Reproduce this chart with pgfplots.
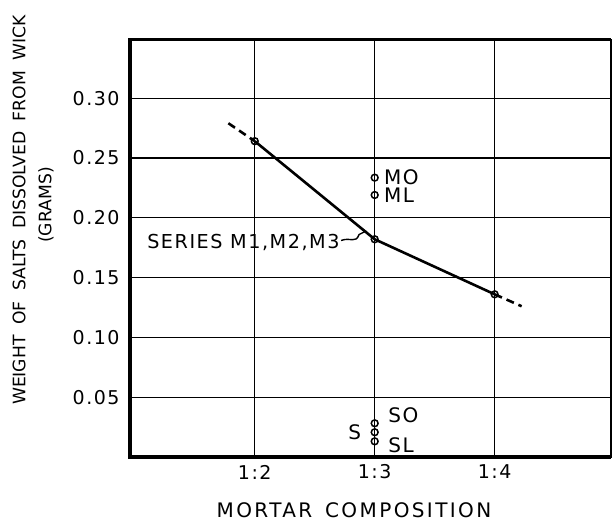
\documentclass[border=0pt]{standalone}
\usepackage{fontspec}
\setmainfont{DejaVu Sans}
\newfontfamily\lbl[LetterSpace=8]{DejaVu Sans}
\newfontfamily\lblw[LetterSpace=12]{DejaVu Sans}
\newfontfamily\lbln{DejaVu Sans}
\usepackage{pgfplots}
\pgfplotsset{compat=1.18}
\begin{document}
\begin{tikzpicture}
\begin{axis}[
  scale only axis,
  width=240.5pt, height=208.75pt,
  xmin=0.96, xmax=4.97,
  ymin=0, ymax=0.349,
  xtick={2,3,4},
  xticklabels={1:2,1:3,1:4},
  ytick={0.05,0.10,0.15,0.20,0.25,0.30},
  /pgf/number format/fixed,
  /pgf/number format/fixed zerofill,
  /pgf/number format/precision=2,
  /pgf/number format/assume math mode=true,
  yticklabel style={anchor=east, inner sep=0pt, xshift=-5pt, font=\lbl\fontsize{9.5}{10}\selectfont},
  xticklabel style={anchor=center, inner sep=0pt, yshift=-7.5pt, font=\lbl\fontsize{9.5}{10}\selectfont},
  major tick length=0pt,
  grid=major,
  major grid style={black, line width=0.6pt},
  axis line style={black, line width=0.6pt},
  clip=false,
]
\draw[line width=1.6pt] (rel axis cs:1,1) -- (rel axis cs:0,1) -- (rel axis cs:0,0) -- (rel axis cs:1,0);
% dashed extensions
\addplot[black, line width=1.3pt, dash pattern=on 4pt off 2.5pt] coordinates {(1.78,0.279) (2,0.264)};
\addplot[black, line width=1.3pt, dash pattern=on 4pt off 2.5pt] coordinates {(4,0.136) (4.225,0.126)};
% main curve
\addplot[black, line width=1.3pt] coordinates {(2,0.264) (3,0.182) (4,0.136)};
% points
\addplot[only marks, mark=o, mark size=1.7pt, mark options={fill=white, line width=0.75pt}] coordinates {
  (2,0.264) (3,0.182) (4,0.136)
  (3,0.2335) (3,0.219)
  (3,0.0282) (3,0.0207) (3,0.0131)};
% labels
\node[anchor=west, inner sep=0pt, font=\lbl\fontsize{10}{11}\selectfont] at (axis cs:3.075,0.2335) {MO};
\node[anchor=west, inner sep=0pt, font=\lbl\fontsize{10}{11}\selectfont] at (axis cs:3.075,0.2185) {ML};
\node[anchor=west, inner sep=0pt, font=\lbl\fontsize{10}{11}\selectfont] at (axis cs:3.11,0.035) {SO};
\node[anchor=west, inner sep=0pt, font=\lbl\fontsize{10}{11}\selectfont] at (axis cs:3.11,0.010) {SL};
\node[anchor=east, inner sep=0pt, font=\lbl\fontsize{10}{11}\selectfont] at (axis cs:2.89,0.021) {S};
\node[anchor=east, inner sep=0pt, font=\lbl\fontsize{9.6}{11}\selectfont] at (axis cs:2.71,0.179) {SERIES M1,M2,M3};
\draw[line width=0.7pt] (axis cs:2.72,0.181) .. controls (axis cs:2.80,0.184) and (axis cs:2.84,0.178) .. (axis cs:2.87,0.186) -- (axis cs:2.93,0.189);
% axis labels
\node[inner sep=0pt, font=\lblw\fontsize{10}{11}\selectfont] at (112pt,-26.5pt) {MORTAR\hspace{2pt} COMPOSITION};
\node[rotate=90, inner sep=0pt, font=\lbln\fontsize{8.6}{10}\selectfont] at (-55.5pt,123.5pt) {WEIGHT\hspace{2.5pt} OF\hspace{2.5pt} SALTS\hspace{2.5pt} DISSOLVED\hspace{2.5pt} FROM\hspace{2.5pt} WICK};
\node[rotate=90, inner sep=0pt, font=\lbln\fontsize{8.6}{10}\selectfont] at (-42pt,126pt) {(GRAMS)};
\end{axis}
\pgfresetboundingbox
\path (-65pt,-32.5pt) rectangle (241.5pt,228.5pt);
\end{tikzpicture}
\end{document}
